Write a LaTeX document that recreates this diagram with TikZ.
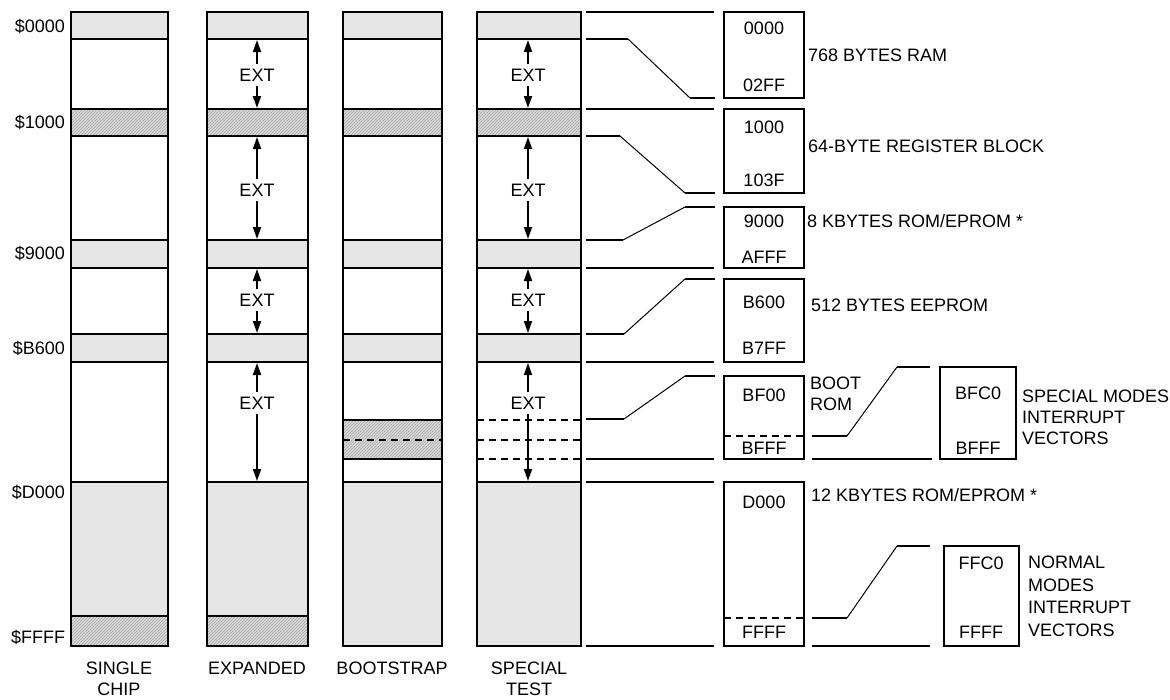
\documentclass[tikz,border=0pt]{standalone}
\usepackage{fontspec}
\setmainfont{Liberation Sans}
\usetikzlibrary{arrows.meta,patterns}
\definecolor{BandGray}{HTML}{E6E6E6}
\definecolor{HatchGray}{HTML}{DADADA}

\tikzset{
  lbl/.style={font=\fontsize{18}{21}\selectfont,inner sep=0pt},
  band/.style={fill=BandGray},
  hatch/.style={fill=HatchGray,postaction={pattern=north east lines,pattern color=gray!70}},
  ext/.style={-{Triangle[length=12pt,width=8pt]},line width=1.8pt},
  dsh/.style={dash pattern=on 7pt off 5pt},
  slant/.style={line width=1pt},
  mbox/.style={draw,minimum width=80,inner sep=0pt}
}

\begin{document}
\begin{tikzpicture}[x=1pt,y=-1pt,line width=2pt]
\useasboundingbox (0,0) rectangle (1170,699);
% memory map columns: fills first
\foreach \xl/\xr in {71/168,207/308,343/442,477/581}{
  \fill[band] (\xl,12) rectangle (\xr,39);
  \path[hatch] (\xl,109) rectangle (\xr,136);
  \fill[band] (\xl,240) rectangle (\xr,268);
  \fill[band] (\xl,334) rectangle (\xr,362);
  \fill[band] (\xl,482) rectangle (\xr,646);
}
\foreach \xl/\xr in {71/168,207/308}
  \path[hatch] (\xl,616) rectangle (\xr,646);
\path[hatch] (343,420) rectangle (442,459);
% outlines
\foreach \xl/\xr in {71/168,207/308,343/442,477/581}{
  \draw (\xl,12) rectangle (\xr,646);
  \foreach \yl in {39,109,136,240,268,334,362,482}
    \draw (\xl,\yl) -- (\xr,\yl);
}
\foreach \xl/\xr in {71/168,207/308}
  \draw (\xl,616) -- (\xr,616);
\draw (343,420) -- (442,420);
\draw (343,459) -- (442,459);
\draw[dsh] (343,440) -- (442,440);
\foreach \yl in {420,440,459}
  \draw[dsh] (477,\yl) -- (581,\yl);

% address labels
\foreach \yl/\ad in {26/0000,122/1000,253/9000,348/B600,492/D000,637/FFFF}
  \node[lbl,anchor=east] (adr\ad) at (66,\yl) {\$\ad};

% mode names
\node[lbl,align=center,anchor=north] (single) at (119,661) {SINGLE\\CHIP};
\node[lbl,anchor=north] (expanded) at (257,661) {EXPANDED};
\node[lbl,anchor=north] (bootstrap) at (392,661) {BOOTSTRAP};
\node[lbl,align=center,anchor=north] (special) at (529,661) {SPECIAL\\TEST};

% external areas
\foreach \cx/\cn in {257/exp,528/tst}
  \foreach \ty/\up/\dn [count=\i] in {75/40/108,190/137/239,300/269/333,403/363/481}{
    \node[lbl,inner sep=4pt] (\cn\i) at (\cx,\ty) {EXT};
    \draw[ext] (\cn\i.north) -- (\cx,\up);
    \draw[ext] (\cn\i.south) -- (\cx,\dn);
  }

% detail boxes
\node[mbox,minimum height=86] (ram) at (764,55) {};
\node[mbox,minimum height=84] (reg) at (764,151) {};
\node[mbox,minimum height=61] (romA) at (764,237.5) {};
\node[mbox,minimum height=83] (eep) at (764,320.5) {};
\node[mbox,minimum height=83] (boot) at (764,417.5) {};
\node[mbox,minimum height=164] (romB) at (764,564) {};
\node[mbox,minimum width=76,minimum height=92] (svec) at (978,413) {};
\node[mbox,minimum width=75,minimum height=100] (nvec) at (981.5,596) {};
\draw[dsh] (724,436) -- (804,436);
\draw[dsh] (724,618) -- (804,618);

\foreach \bx/\ya/\ta/\yb/\tb in {ram/28/0000/85/02FF,reg/127/1000/180/103F,
    romA/221/9000/257/AFFF,eep/302/B600/348/B7FF,boot/395/BF00/448/BFFF,
    romB/502/D000/632/FFFF}{
  \node[lbl] (\bx-lo) at (764,\ya) {\ta};
  \node[lbl] (\bx-hi) at (764,\yb) {\tb};
}
\node[lbl] (svec-lo) at (978,393) {BFC0};
\node[lbl] (svec-hi) at (978,448) {BFFF};
\node[lbl] (nvec-lo) at (981,563) {FFC0};
\node[lbl] (nvec-hi) at (981,632) {FFFF};

% descriptions
\node[lbl,anchor=west] (dram) at (807,55) {768 BYTES RAM};
\node[lbl,anchor=west] (dreg) at (807,146) {64-BYTE REGISTER BLOCK};
\node[lbl,anchor=west] (dromA) at (806,221) {8 KBYTES ROM/EPROM *};
\node[lbl,anchor=west] (deep) at (810,305) {512 BYTES EEPROM};
\node[lbl,align=left,anchor=north west] (dboot) at (809,376) {BOOT\\ROM};
\node[lbl,anchor=west] (dromB) at (810,495) {12 KBYTES ROM/EPROM *};
\node[lbl,align=left,anchor=north west] (dsvec) at (1021,389) {SPECIAL MODES\\INTERRUPT\\VECTORS};
\node[lbl,align=left,anchor=north west,font=\fontsize{18}{22.5}\selectfont] (dnvec) at (1027,555) {NORMAL\\MODES\\INTERRUPT\\VECTORS};

% expansion lines
\foreach \yl in {12,109,268,362,459,482,646}
  \draw (586,\yl) -- (714,\yl);
\foreach \ya/\xa/\xb/\yb in {39/628/690/98,136/620/685/193,240/623/685/207,
    334/624/685/279,419/624/685/376}{
  \draw (586,\ya) -- (\xa,\ya);
  \draw[slant] (\xa,\ya) -- (\xb,\yb);
  \draw (\xb,\yb) -- (715,\yb);
}
\foreach \ya/\yb in {436/367,618/546}{
  \draw (812,\ya) -- (847,\ya);
  \draw[slant] (847,\ya) -- (897,\yb);
  \draw (897,\yb) -- (930,\yb);
}
\draw (812,459) -- (932,459);
\draw (812,646) -- (930,646);
\end{tikzpicture}
\end{document}
